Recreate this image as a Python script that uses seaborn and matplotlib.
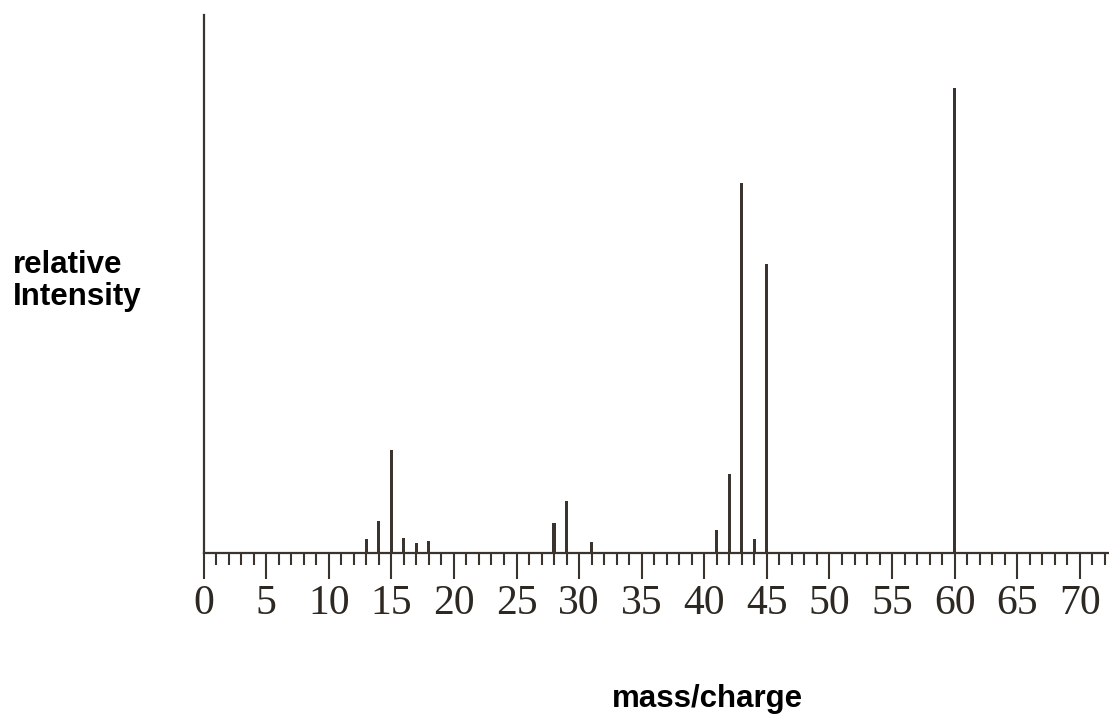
import numpy as np
import matplotlib
matplotlib.use('Agg')
import matplotlib.pyplot as plt
from matplotlib.ticker import MultipleLocator
import seaborn as sns
import pandas as pd

# Peaks (m/z, relative intensity in % of axis height)
mz = [13, 14, 15, 16, 17, 18, 28, 29, 31, 41, 42, 43, 44, 45, 60]
intensity = [2.6, 5.9, 19.1, 2.8, 1.9, 2.2, 5.6, 9.7, 2.0, 4.3, 14.7, 68.8, 2.6, 53.7, 86.4]
x_ticks = list(range(0, 75, 5))
x_label = 'mass/charge'
y_label = ['relative', 'Intensity']

ink = '#3b342e'

sns.set_style('white')
plt.rcParams['font.family'] = ['Liberation Sans', 'DejaVu Sans']

df = pd.DataFrame({'mz': mz, 'intensity': intensity})

fig = plt.figure(figsize=(11.09, 7.17), dpi=100)
ax = fig.add_axes([203.5 / 1109, 164 / 717, (1109 - 203.5) / 1109, 538 / 717])

sns.barplot(data=df, x='mz', y='intensity', native_scale=True, width=0.25,
            color=ink, saturation=1, linewidth=0, ax=ax)

ax.set_xlim(0, (1109 - 203.5) / 12.52)
ax.set_ylim(0, 100)

# spines: baseline and the left vertical line only
for s in ['top', 'right']:
    ax.spines[s].set_visible(False)
for s in ['left', 'bottom']:
    ax.spines[s].set_color(ink)
    ax.spines[s].set_linewidth(1.6)

ax.set_yticks([])
ax.xaxis.set_major_locator(MultipleLocator(5))
ax.xaxis.set_minor_locator(MultipleLocator(1))
ax.set_xticks(x_ticks)
ax.set_xticklabels([str(t) for t in x_ticks], fontfamily='Liberation Serif',
                   fontsize=30, color='#2e2823')
ax.tick_params(axis='x', which='major', direction='out', length=19, width=1.5,
               color=ink, pad=4, bottom=True)
ax.tick_params(axis='x', which='minor', direction='out', length=8.5, width=1.5,
               color=ink, bottom=True)
ax.set_xlabel('')
ax.set_ylabel('')

fig.text(13 / 1109, (717 - 273) / 717, y_label[0], fontsize=22.5,
         fontweight='bold', ha='left', va='baseline', color='black')
fig.text(13 / 1109, (717 - 305) / 717, y_label[1], fontsize=22.5,
         fontweight='bold', ha='left', va='baseline', color='black')
fig.text(707 / 1109, (717 - 707) / 717, x_label, fontsize=22.5,
         fontweight='bold', ha='center', va='baseline', color='black')

fig.savefig('out.png', dpi=100)
